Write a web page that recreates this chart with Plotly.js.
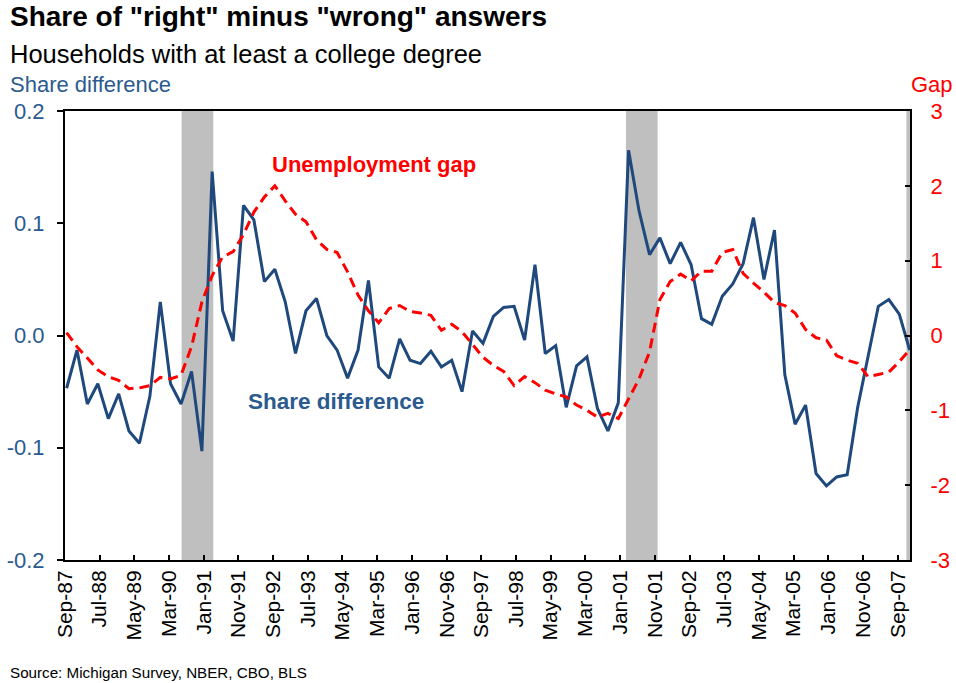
<!DOCTYPE html>
<html>
<head>
<meta charset="utf-8">
<script src="https://cdn.plot.ly/plotly-3.0.1.min.js"></script>
<style>html,body{margin:0;padding:0;background:#fff;}#chart{width:956px;height:683px;}</style>
</head>
<body>
<div id="chart"></div>
<script>
// Quarterly observations, Sep-87 .. Dec-07
const startYear = 1987, startMonth = 9, nObs = 82;
const shareDifference = [
  -0.047, -0.013, -0.061, -0.043, -0.074, -0.052, -0.085, -0.096, -0.054, 0.030,
  -0.043, -0.061, -0.032, -0.103, 0.146, 0.022, -0.005, 0.116, 0.103, 0.048,
  0.059, 0.030, -0.016, 0.022, 0.033, 0.000, -0.013, -0.038, -0.013, 0.049,
  -0.028, -0.038, -0.003, -0.022, -0.025, -0.014, -0.028, -0.022, -0.050, 0.004,
  -0.007, 0.017, 0.025, 0.026, -0.004, 0.063, -0.016, -0.009, -0.064, -0.027,
  -0.019, -0.065, -0.085, -0.060, 0.165, 0.111, 0.072, 0.087, 0.064, 0.083,
  0.063, 0.015, 0.010, 0.035, 0.046, 0.064, 0.105, 0.050, 0.094, -0.035,
  -0.079, -0.062, -0.123, -0.134, -0.126, -0.124, -0.064, -0.020, 0.026, 0.032,
  0.019, -0.013
];
const unemploymentGap = [
  0.04, -0.15, -0.30, -0.46, -0.55, -0.60, -0.71, -0.70, -0.67, -0.56,
  -0.58, -0.53, -0.15, 0.45, 0.80, 1.05, 1.12, 1.35, 1.65, 1.85,
  2.00, 1.80, 1.62, 1.52, 1.28, 1.15, 1.11, 0.85, 0.54, 0.33,
  0.17, 0.36, 0.40, 0.32, 0.30, 0.27, 0.07, 0.15, 0.05, -0.12,
  -0.29, -0.40, -0.48, -0.67, -0.55, -0.63, -0.73, -0.78, -0.82, -0.93,
  -1.00, -1.09, -1.04, -1.11, -0.85, -0.58, -0.22, 0.48, 0.72, 0.82,
  0.73, 0.86, 0.86, 1.11, 1.15, 0.83, 0.70, 0.58, 0.44, 0.40,
  0.30, 0.08, -0.03, -0.06, -0.27, -0.33, -0.37, -0.55, -0.52, -0.49,
  -0.35, -0.19
];
const recessionStart = ['1990-06-20', '2001-02-20', '2007-11-17'];
const recessionEnd   = ['1991-03-25', '2001-11-25', '2008-02-01'];
const xTickDates = ['1987-09-01','1988-07-01','1989-05-01','1990-03-01','1991-01-01','1991-11-01',
  '1992-09-01','1993-07-01','1994-05-01','1995-03-01','1996-01-01','1996-11-01','1997-09-01',
  '1998-07-01','1999-05-01','2000-03-01','2001-01-01','2001-11-01','2002-09-01','2003-07-01',
  '2004-05-01','2005-03-01','2006-01-01','2006-11-01','2007-09-01'];
const xTickLabels = ['Sep-87','Jul-88','May-89','Mar-90','Jan-91','Nov-91','Sep-92','Jul-93',
  'May-94','Mar-95','Jan-96','Nov-96','Sep-97','Jul-98','May-99','Mar-00','Jan-01','Nov-01',
  'Sep-02','Jul-03','May-04','Mar-05','Jan-06','Nov-06','Sep-07'];
const leftTickVals = [-0.2, -0.1, 0, 0.1, 0.2];
const leftTickText = ['-0.2', '-0.1', '0.0', '0.1', '0.2'];
const rightTickVals = [-3, -2, -1, 0, 1, 2, 3];
const rightTickText = ['-3', '-2', '-1', '0', '1', '2', '3'];

const dates = [];
for (let i = 0; i < nObs; i++) {
  const m = startMonth - 1 + 3 * i;
  const y = startYear + Math.floor(m / 12);
  const mm = (m % 12) + 1;
  dates.push(y + '-' + String(mm).padStart(2, '0') + '-15');
}

const FONT = 'Liberation Sans, Arial, sans-serif';
const BLUE = '#1F497D';
const BLUE_TXT = '#2B5A8E';
const RED = '#FF0000';

const traces = [
  { x: dates, y: shareDifference, type: 'scatter', mode: 'lines', name: 'Share difference',
    line: { color: BLUE, width: 3 }, yaxis: 'y', hoverinfo: 'x+y' },
  { x: dates, y: unemploymentGap, type: 'scatter', mode: 'lines', name: 'Unemployment gap',
    line: { color: RED, width: 3, dash: '10px,6px' }, yaxis: 'y2', hoverinfo: 'x+y' }
];

const shapes = recessionStart.map((s, k) => ({
  type: 'rect', xref: 'x', yref: 'paper', x0: s, x1: recessionEnd[k], y0: 0, y1: 1,
  fillcolor: '#BFBFBF', line: { width: 0 }, layer: 'below'
}));

const layout = {
  width: 956, height: 683, autosize: false,
  margin: { l: 65, r: 46, t: 111, b: 123, pad: 0 },
  paper_bgcolor: '#fff', plot_bgcolor: 'rgba(0,0,0,0)',
  showlegend: false,
  font: { family: FONT, color: '#000' },
  xaxis: {
    type: 'date', range: ['1987-09-01', '2007-12-18'],
    tickvals: xTickDates, ticktext: xTickLabels, tickangle: -90,
    ticks: 'inside', ticklen: 5, tickwidth: 2, tickcolor: '#000',
    showline: true, linecolor: '#000', linewidth: 2, mirror: true,
    showgrid: false, zeroline: false,
    tickfont: { family: FONT, size: 21, color: '#000' }
  },
  yaxis: {
    range: [-0.2, 0.2], tickvals: leftTickVals, ticktext: leftTickText,
    ticks: 'outside', ticklen: 6, tickwidth: 2, tickcolor: '#000',
    ticklabelstandoff: 8,
    showline: true, linecolor: '#000', linewidth: 2,
    showgrid: false, zeroline: false,
    tickfont: { family: FONT, size: 22, color: BLUE_TXT }
  },
  yaxis2: {
    range: [-3, 3], tickvals: rightTickVals, ticktext: rightTickText,
    overlaying: 'y', side: 'right',
    ticks: 'inside', ticklen: 5, tickwidth: 2, tickcolor: '#000',
    ticklabelstandoff: 14,
    showline: true, linecolor: '#000', linewidth: 2,
    showgrid: false, zeroline: false,
    tickfont: { family: FONT, size: 22, color: RED }
  },
  shapes: shapes,
  annotations: [
    { text: '<b>Share of "right" minus "wrong" answers</b>', xref: 'paper', yref: 'paper',
      x: -0.0675, y: 1.210, xanchor: 'left', yanchor: 'middle', showarrow: false,
      font: { family: FONT, size: 28, color: '#000' } },
    { text: 'Households with at least a college degree', xref: 'paper', yref: 'paper',
      x: -0.0675, y: 1.128, xanchor: 'left', yanchor: 'middle', showarrow: false,
      font: { family: FONT, size: 25.5, color: '#000' } },
    { text: 'Share difference', xref: 'paper', yref: 'paper',
      x: -0.0675, y: 1.060, xanchor: 'left', yanchor: 'middle', showarrow: false,
      font: { family: FONT, size: 22, color: BLUE_TXT } },
    { text: 'Gap', xref: 'paper', yref: 'paper',
      x: 1.0533, y: 1.060, xanchor: 'right', yanchor: 'middle', showarrow: false,
      font: { family: FONT, size: 22, color: RED } },
    { text: '<b>Unemployment gap</b>', xref: 'paper', yref: 'paper',
      x: 0.366, y: 0.880, xanchor: 'center', yanchor: 'middle', showarrow: false,
      font: { family: FONT, size: 22, color: RED } },
    { text: '<b>Share difference</b>', xref: 'paper', yref: 'paper',
      x: 0.3207, y: 0.352, xanchor: 'center', yanchor: 'middle', showarrow: false,
      font: { family: FONT, size: 22.5, color: BLUE_TXT } },
    { text: 'Source: Michigan Survey, NBER, CBO, BLS', xref: 'paper', yref: 'paper',
      x: -0.0675, y: -0.250, xanchor: 'left', yanchor: 'middle', showarrow: false,
      font: { family: FONT, size: 15.2, color: '#000' } }
  ]
};

Plotly.newPlot('chart', traces, layout, { displayModeBar: false, staticPlot: true });
</script>
</body>
</html>
